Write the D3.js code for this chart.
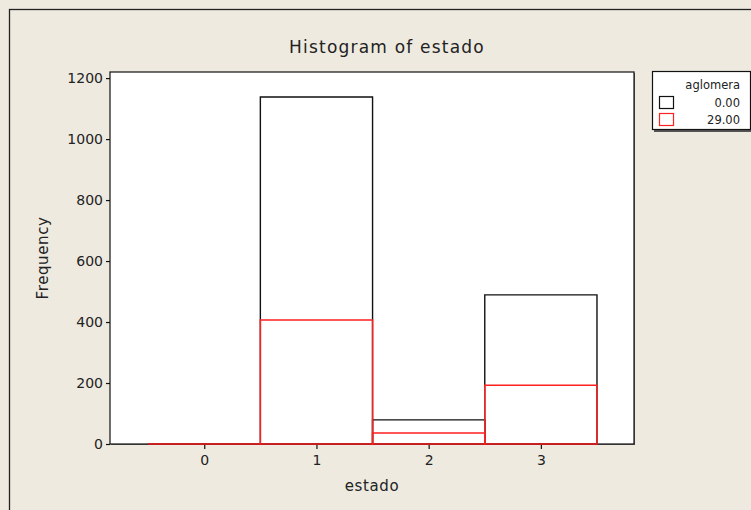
<!DOCTYPE html>
<html><head><meta charset="utf-8">
<script src="https://cdn.jsdelivr.net/npm/d3@7"></script>
<style>
html,body{margin:0;padding:0;background:#EEEAE0;}
svg{display:block;}
text{font-family:"DejaVu Sans",Verdana,sans-serif;fill:#222;}
</style></head><body>
<svg id="c" width="751" height="510"></svg>
<script>
const categories = [0, 1, 2, 3];
const seriesNames = ["0.00", "29.00"];
const values0 = [0, 1138, 79, 489];
const values29 = [0, 407, 36, 193];
const yTicks = [0, 200, 400, 600, 800, 1000, 1200];
const xTicks = [0, 1, 2, 3];
const colors = ["#111111", "#FF2020"];

const svg = d3.select("#c");
const W = 751, H = 510;
const plot = {l: 110, t: 72, r: 634, b: 444};

svg.append("rect").attr("x", 0).attr("y", 0).attr("width", W).attr("height", H).attr("fill", "#EEEAE0");
svg.append("rect").attr("x", 9.5).attr("y", 9.5).attr("width", 800).attr("height", 600)
  .attr("fill", "none").attr("stroke", "#222").attr("stroke-width", 1.3);

const x = d3.scaleLinear().domain([-0.84, 3.83]).range([plot.l, plot.r]);
const y = d3.scaleLinear().domain([0, 1220]).range([plot.b, plot.t]);

svg.append("rect").attr("x", plot.l + 1).attr("y", plot.t + 1).attr("width", plot.r - plot.l).attr("height", plot.b - plot.t)
  .attr("fill", "#666");
svg.append("rect").attr("x", plot.l).attr("y", plot.t).attr("width", plot.r - plot.l).attr("height", plot.b - plot.t)
  .attr("fill", "#fff").attr("stroke", "#111").attr("stroke-width", 1.2);

const yAxis = d3.axisLeft(y).tickValues(yTicks).tickFormat(d3.format("d")).tickSize(4).tickPadding(3);
const gy = svg.append("g").attr("transform", `translate(${plot.l},0)`).call(yAxis);
gy.select(".domain").remove();
gy.selectAll("line").attr("stroke", "#111").attr("stroke-width", 1.2);
gy.selectAll("text").style("font-size", "14px").style("font-family", "'DejaVu Sans',sans-serif").attr("fill", "#222");

const xAxis = d3.axisBottom(x).tickValues(xTicks).tickFormat(d3.format("d")).tickSize(5).tickPadding(6);
const gx = svg.append("g").attr("transform", `translate(0,${plot.b})`).call(xAxis);
gx.select(".domain").remove();
gx.selectAll("line").attr("stroke", "#111").attr("stroke-width", 1.2);
gx.selectAll("text").style("font-size", "14px").style("font-family", "'DejaVu Sans',sans-serif").attr("fill", "#222");

function barPath(c, v) {
  const x0 = x(c - 0.5), x1 = x(c + 0.5), yb = y(0), yt = y(v);
  return `M${x0},${yb}V${yt}H${x1}V${yb}Z`;
}
const series = [values0, values29];
series.forEach((vals, si) => {
  svg.append("g").selectAll("path").data(categories).join("path")
    .attr("d", (c, i) => barPath(c, vals[i]))
    .attr("fill", "none").attr("stroke", colors[si]).attr("stroke-width", si === 0 ? 1.4 : 1.5);
});

svg.append("text").attr("x", 387).attr("y", 53).attr("text-anchor", "middle")
  .style("font-size", "17px").style("letter-spacing", "1.2px").text("Histogram of estado");
svg.append("text").attr("x", 372).attr("y", 491).attr("text-anchor", "middle")
  .style("font-size", "15px").style("letter-spacing", "0.6px").text("estado");
svg.append("text").attr("transform", "translate(48,258) rotate(-90)").attr("text-anchor", "middle")
  .style("font-size", "15px").style("letter-spacing", "0.6px").text("Frequency");

const lg = svg.append("g");
lg.append("rect").attr("x", 654).attr("y", 73).attr("width", 100).attr("height", 59).attr("fill", "#555");
lg.append("rect").attr("x", 652.5).attr("y", 71.5).attr("width", 98).attr("height", 58)
  .attr("fill", "#fff").attr("stroke", "#111").attr("stroke-width", 1.2);
lg.append("text").attr("x", 740).attr("y", 89).attr("text-anchor", "end")
  .style("font-size", "11.5px").text("aglomera");
seriesNames.forEach((name, i) => {
  const yy = 96 + i * 17;
  lg.append("rect").attr("x", 659.5).attr("y", yy + 0.5).attr("width", 14).attr("height", 12)
    .attr("fill", "#fff").attr("stroke", colors[i]).attr("stroke-width", 1.2);
  lg.append("text").attr("x", 740).attr("y", yy + 11).attr("text-anchor", "end")
    .style("font-size", "11.5px").text(name);
});
</script>
</body></html>
